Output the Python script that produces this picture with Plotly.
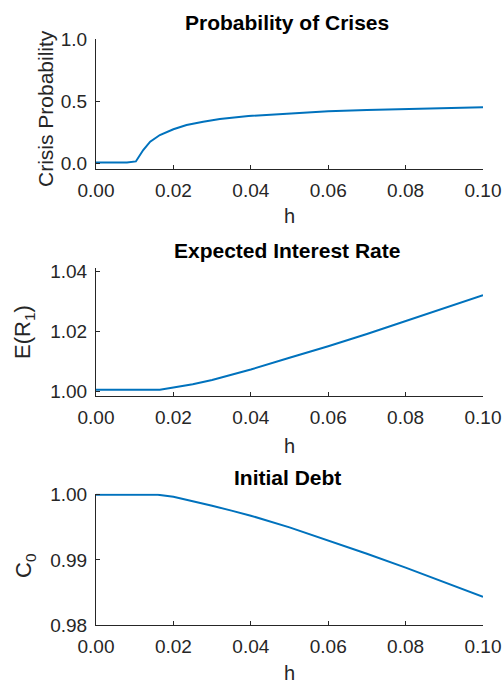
import plotly.graph_objects as go

# ---- data ----
h_prob = [0.0, 0.005, 0.008, 0.0103, 0.0122, 0.014, 0.0165, 0.02, 0.0234, 0.0277,
          0.032, 0.0394, 0.05, 0.06, 0.07, 0.08, 0.09, 0.1]
crisis_prob = [0.005, 0.005, 0.005, 0.013, 0.105, 0.172, 0.226, 0.272, 0.306, 0.333,
               0.355, 0.379, 0.400, 0.418, 0.428, 0.437, 0.444, 0.449]

h_rate = [0.0, 0.005, 0.01, 0.0165, 0.02, 0.025, 0.03, 0.035, 0.04, 0.05, 0.06,
          0.07, 0.08, 0.09, 0.1]
exp_rate = [1.0006, 1.0006, 1.0006, 1.0006, 1.0013, 1.0024, 1.0038, 1.0055, 1.0073,
            1.0112, 1.0150, 1.0191, 1.0234, 1.0275, 1.0320]

h_debt = [0.0, 0.005, 0.01, 0.016, 0.02, 0.025, 0.03, 0.035, 0.04, 0.05, 0.06,
          0.07, 0.08, 0.09, 0.1]
init_debt = [1.0, 1.0, 1.0, 1.0, 0.9997, 0.99905, 0.99832, 0.99757, 0.99679, 0.9950,
             0.99298, 0.99094, 0.98881, 0.98661, 0.98432]

x_ticks = [0.0, 0.02, 0.04, 0.06, 0.08, 0.10]
y1_ticks = [0.0, 0.5, 1.0]
y2_ticks = [1.00, 1.02, 1.04]
y3_ticks = [0.98, 0.99, 1.00]

titles = ["Probability of Crises", "Expected Interest Rate", "Initial Debt"]
ylabels = ["Crisis Probability", "E(R<sub>1</sub>)", "C<sub>0</sub>"]
xlabel = "h"

# ---- style ----
LINE = "#0072BD"
AX = "#262626"
FONT = "Liberation Sans, Arial, sans-serif"
W, H = 504, 683
L, R = 96, 21

def py(p):
    return 1 - p / H

def px(p):
    return (p - L) / (W - L - R)

fig = go.Figure()
fig.add_trace(go.Scatter(x=h_prob, y=crisis_prob, mode="lines", line=dict(color=LINE, width=2),
                         xaxis="x", yaxis="y", showlegend=False))
fig.add_trace(go.Scatter(x=h_rate, y=exp_rate, mode="lines", line=dict(color=LINE, width=2),
                         xaxis="x2", yaxis="y2", showlegend=False))
fig.add_trace(go.Scatter(x=h_debt, y=init_debt, mode="lines", line=dict(color=LINE, width=2),
                         xaxis="x3", yaxis="y3", showlegend=False))

common_x = dict(range=[0, 0.1], tickvals=x_ticks, tickformat=".2f", ticks="inside", ticklen=4,
                tickcolor=AX, showline=True, linecolor=AX, linewidth=1, mirror=False,
                showgrid=False, zeroline=False, tickfont=dict(family=FONT, size=19, color=AX),
                ticklabelstandoff=4, automargin=False)
common_y = dict(ticks="inside", ticklen=4, tickcolor=AX, showline=True, linecolor=AX,
                linewidth=1, mirror=False, showgrid=False, zeroline=False,
                tickfont=dict(family=FONT, size=19, color=AX), ticklabelstandoff=4,
                automargin=False)

domains = [(py(169), py(39)), (py(396), py(267.7)), (py(625), py(493.5))]

fig.update_layout(
    width=W, height=H, margin=dict(l=L, r=R, t=0, b=0, autoexpand=False),
    paper_bgcolor="white", plot_bgcolor="white",
    xaxis=dict(common_x, domain=[0, 1], anchor="y"),
    yaxis=dict(common_y, domain=list(domains[0]), anchor="x", range=[-0.048, 1.0],
               tickvals=y1_ticks, tickformat=".1f"),
    xaxis2=dict(common_x, domain=[0, 1], anchor="y2"),
    yaxis2=dict(common_y, domain=list(domains[1]), anchor="x2", range=[0.9985, 1.0411],
                tickvals=y2_ticks, tickformat=".2f"),
    xaxis3=dict(common_x, domain=[0, 1], anchor="y3"),
    yaxis3=dict(common_y, domain=list(domains[2]), anchor="x3", range=[0.98, 1.0002],
                tickvals=y3_ticks, tickformat=".2f"),
)

title_y = [23, 250, 477]
xlabel_y = [216, 446, 673]
ylabel_pos = [(45, 108), (24, 332), (25, 566)]
ylabel_size = [21, 22, 22]
ann = []
for i in range(3):
    ann.append(dict(text="<b>%s</b>" % titles[i], x=px(287), y=py(title_y[i]), xref="paper",
                    yref="paper", showarrow=False, xanchor="center", yanchor="middle",
                    font=dict(family=FONT, size=21, color="black")))
    ann.append(dict(text=xlabel, x=0.5, y=py(xlabel_y[i]), xref="paper", yref="paper",
                    showarrow=False, xanchor="center", yanchor="middle",
                    font=dict(family=FONT, size=20, color=AX)))
    ann.append(dict(text=ylabels[i], x=px(ylabel_pos[i][0]), y=py(ylabel_pos[i][1]),
                    xref="paper", yref="paper", showarrow=False, textangle=-90,
                    xanchor="center", yanchor="middle",
                    font=dict(family=FONT, size=ylabel_size[i], color=AX)))
fig.update_layout(annotations=ann)

fig.write_html("out.html", config={"displayModeBar": False},
               post_script="document.body.style.margin='0px';")
